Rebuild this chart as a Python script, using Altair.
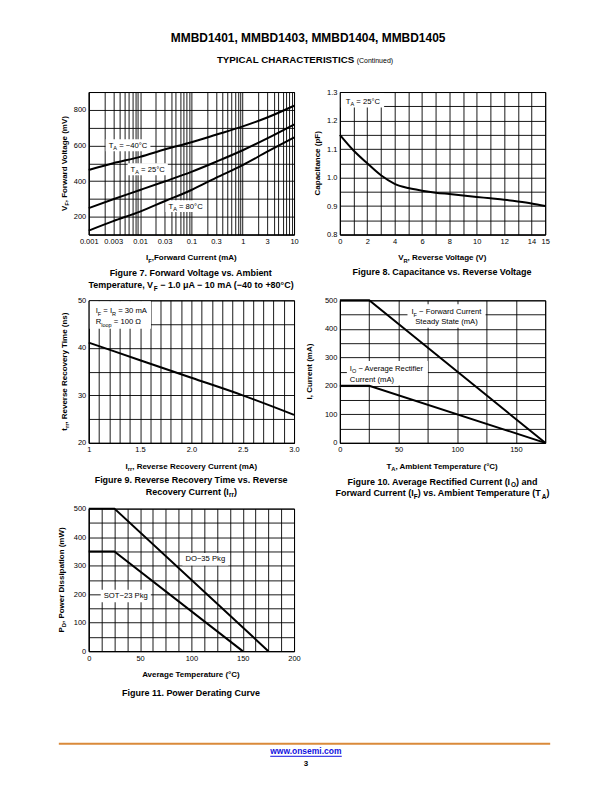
import json
import altair as alt
import pandas as pd

FONT = "Liberation Sans"
W, H = 206, 143
LBL = 7.7    # in-plot annotation text
AX = 8       # axis titles
CAP = 9      # figure captions
TICK = 7.5   # tick labels

# ---------------- data ----------------
# Figure 7: forward voltage vs forward current (log x)
f7_if = [0.001, 0.003, 0.01, 0.03, 0.1, 0.3, 1, 3, 10]
f7_vf_m40 = [462, 500, 536, 577, 618, 660, 707, 757, 823]
f7_vf_25 = [248, 298, 350, 398, 452, 508, 573, 640, 718]
f7_vf_80 = [122, 175, 229, 287, 350, 418, 490, 565, 645]
f7_series = ["-40", "25", "80"]
f7_xgrid = [0.001, 0.002, 0.003, 0.004, 0.005, 0.006, 0.007, 0.008, 0.009,
            0.01, 0.02, 0.03, 0.04, 0.05, 0.06, 0.07, 0.08, 0.09,
            0.1, 0.2, 0.3, 0.4, 0.5, 0.6, 0.7, 0.8, 0.9,
            1, 2, 3, 4, 5, 6, 7, 8, 9, 10]
f7_xlabels = [0.001, 0.003, 0.01, 0.03, 0.1, 0.3, 1, 3, 10]
f7_ygrid = [100, 200, 300, 400, 500, 600, 700, 800, 900]
f7_ylabels = [200, 400, 600, 800]

# Figure 8: capacitance vs reverse voltage
f8_vr = [0, 1, 2, 3, 4, 5, 6, 7, 8, 9, 10, 11, 12, 13, 14, 15]
f8_cap = [1.15, 1.095, 1.05, 1.008, 0.978, 0.963, 0.954, 0.947, 0.942, 0.937,
          0.932, 0.927, 0.922, 0.916, 0.909, 0.900]
f8_xgrid = [0, 1, 2, 3, 4, 5, 6, 7, 8, 9, 10, 11, 12, 13, 14, 15]
f8_xlabels = [0, 2, 4, 6, 8, 10, 12, 14, 15]
f8_ygrid = [0.8, 0.85, 0.9, 0.95, 1.0, 1.05, 1.1, 1.15, 1.2, 1.25, 1.3]
f8_ylabels = [0.8, 0.9, 1.0, 1.1, 1.2, 1.3]

# Figure 9: reverse recovery time vs reverse recovery current
f9_irr = [1.0, 1.5, 2.0, 2.5, 3.0]
f9_trr = [41.1, 37.4, 33.7, 30.0, 25.9]
f9_xgrid = [1.0, 1.1, 1.2, 1.3, 1.4, 1.5, 1.6, 1.7, 1.8, 1.9, 2.0,
            2.1, 2.2, 2.3, 2.4, 2.5, 2.6, 2.7, 2.8, 2.9, 3.0]
f9_xlabels = [1.0, 1.5, 2.0, 2.5, 3.0]
f9_ygrid = [20, 25, 30, 35, 40, 45, 50]
f9_ylabels = [20, 30, 40, 50]

# Figure 10: current derating
f10_ta = [0, 25, 175]
f10_if = [500, 500, 0]
f10_io = [200, 200, 0]
f10_xgrid = [0, 25, 50, 75, 100, 125, 150, 175]
f10_xlabels = [0, 50, 100, 150]
f10_ygrid = [0, 50, 100, 150, 200, 250, 300, 350, 400, 450, 500]
f10_ylabels = [0, 100, 200, 300, 400, 500]

# Figure 11: power derating
f11_t_do35 = [0, 25, 175]
f11_p_do35 = [500, 500, 0]
f11_t_sot23 = [0, 25, 150]
f11_p_sot23 = [350, 350, 0]
f11_xgrid = [0, 12.5, 25, 37.5, 50, 62.5, 75, 87.5, 100, 112.5, 125, 137.5,
             150, 162.5, 175, 187.5, 200]
f11_xlabels = [0, 50, 100, 150, 200]
f11_ygrid = [0, 50, 100, 150, 200, 250, 300, 350, 400, 450, 500]
f11_ylabels = [0, 100, 200, 300, 400, 500]

# ---------------- text helpers ----------------
UP = "ABCDEFGHIJKLMNOPQRSTUVWXYZ"
LO = "abcdefghijklmnopqrstuvwxyz"
NW = dict(zip(UP, [667, 667, 722, 722, 667, 611, 778, 722, 278, 500, 667, 556, 833,
                   722, 778, 667, 778, 722, 667, 611, 722, 667, 944, 667, 667, 611]))
NW.update(zip(LO, [556, 556, 500, 556, 556, 278, 556, 556, 222, 222, 500, 222, 833,
                   556, 556, 556, 556, 333, 500, 278, 556, 500, 722, 500, 500, 500]))
BW = dict(zip(UP, [722, 722, 722, 722, 667, 611, 778, 722, 278, 556, 722, 611, 833,
                   722, 778, 667, 778, 722, 667, 611, 722, 667, 944, 667, 667, 611]))
BW.update(zip(LO, [556, 611, 556, 611, 556, 333, 611, 611, 278, 278, 556, 278, 889,
                   611, 611, 611, 611, 389, 556, 333, 611, 556, 778, 556, 556, 500]))
for d in (NW, BW):
    d.update({c: 556 for c in "0123456789"})
    d.update({" ": 278, ".": 278, ",": 278, "(": 333, ")": 333, "-": 333, "−": 584,
              "=": 584, "°": 400, "Ω": 768, "μ": 576, "+": 584, ":": 278, "/": 278})


def tw(t, size, bold):
    tab = BW if bold else NW
    return sum(tab.get(c, 556) for c in t) * size / 1000.0


def seg(t, size=LBL, bold=False):
    return (t, size, bold, 0)


def sub(t, size=LBL, bold=False):
    return (t, round(size * 0.72, 2), bold, round(size * 0.3, 2))


def pw(parts):
    return sum(tw(t, s, b) for t, s, b, _ in parts)


ONE = pd.DataFrame({"k": [0]})


def rich(parts, x, y, align="center", angle=0, color="black"):
    widths = [tw(t, s, b) for t, s, b, _ in parts]
    total = sum(widths)
    cur = {"center": -total / 2, "left": 0, "right": -total}[align]
    out = []
    for (t, s, b, d), w in zip(parts, widths):
        lead = len(t) - len(t.lstrip(" "))
        off = cur + tw(" " * lead, s, b)
        t2 = t.strip(" ")
        if t2:
            out.append(
                alt.Chart(ONE).mark_text(
                    text=t2, align="left", baseline="alphabetic", font=FONT,
                    fontSize=s, fontWeight="bold" if b else "normal", color=color,
                    dx=round(off, 2), dy=d, angle=angle,
                ).encode(x=alt.value(x), y=alt.value(y))
            )
        cur += w
    return out


def box(x0, y0, x1, y1, color="white", opacity=1.0):
    return alt.Chart(ONE).mark_rect(color=color, opacity=opacity).encode(
        x=alt.value(x0), x2=alt.value(x1), y=alt.value(y0), y2=alt.value(y1))


def axis(grid, labels, fmt="toString(datum.value)"):
    return alt.Axis(
        values=grid,
        labelExpr=f"indexof({json.dumps(labels)}, datum.value) >= 0 ? {fmt} : ''",
        title=None, grid=True, ticks=False, labelFlush=False, labelOverlap=False,
    )


def A(t):
    return seg(t, AX, True)


def As(t):
    return sub(t, AX, True)


def C(t):
    return seg(t, CAP, True)


def Cs(t):
    return sub(t, CAP, True)


def ytitle(parts, x):
    return rich(parts, x, H / 2, angle=270)


def xtitle(parts, y=169):
    return rich(parts, W / 2, y)


def caption(lines, y0, step=11.5):
    out = []
    for i, parts in enumerate(lines):
        out += rich(parts, W / 2, y0 + i * step)
    return out


LINE = dict(color="black", strokeWidth=2)

# ---------------- Figure 7 ----------------
df7 = pd.DataFrame({
    "IF": f7_if * 3,
    "VF": f7_vf_m40 + f7_vf_25 + f7_vf_80,
    "T": [s for s in f7_series for _ in f7_if],
})
line7 = alt.Chart(df7).mark_line(interpolate="monotone", **LINE).encode(
    x=alt.X("IF:Q", scale=alt.Scale(type="log", domain=[0.001, 10], nice=False),
            axis=axis(f7_xgrid, f7_xlabels)),
    y=alt.Y("VF:Q", scale=alt.Scale(domain=[100, 900], nice=False, zero=False),
            axis=axis(f7_ygrid, f7_ylabels)),
    detail="T:N",
)
p7_layers = [box(-80, -82, 516, 694, opacity=0)]
p7_labels = []
for lx, ly, txt in [(20, 56, " = −40°C"), (42, 80, " = 25°C"), (80, 117, " = 80°C")]:
    parts = [seg("T"), sub("A"), seg(txt)]
    w = pw(parts)
    p7_layers.append(box(lx - 3, ly - 8.5, lx + w + 3, ly + 3.5))
    p7_labels += rich(parts, lx, ly, align="left")
p7_layers.append(line7)
p7_layers += p7_labels
p7_layers += ytitle([A("V"), As("F"), A(", Forward Voltage (mV)")], -22)
p7_layers += xtitle([A("I"), As("F"), A(",Forward Current (mA)")])
p7_layers += caption([
    [C("Figure 7. Forward Voltage vs. Ambient")],
    [C("Temperature, V"), Cs("F"), C(" − 1.0 μA − 10 mA (−40 to +80°C)")],
], 184.5, 12)
# page header
p7_layers += rich([seg("MMBD1401, MMBD1403,  MMBD1404, MMBD1405", 12, True)], 222, -50)
p7_layers += rich([seg("TYPICAL CHARACTERISTICS", 9.8, True), seg(" (Continued)", 7, False)], 217, -29)
p7 = alt.layer(*p7_layers).properties(width=W, height=H)

# ---------------- Figure 8 ----------------
df8 = pd.DataFrame({"VR": f8_vr, "C": f8_cap})
line8 = alt.Chart(df8).mark_line(interpolate="monotone", **LINE).encode(
    x=alt.X("VR:Q", scale=alt.Scale(domain=[0, 15], nice=False), axis=axis(f8_xgrid, f8_xlabels)),
    y=alt.Y("C:Q", scale=alt.Scale(domain=[0.8, 1.3], nice=False, zero=False),
            axis=axis(f8_ygrid, f8_ylabels, "format(datum.value, '.1f')")),
)
parts8 = [seg("T"), sub("A"), seg(" = 25°C")]
p8_layers = [box(1, 1, 6 + pw(parts8) + 4, 15.5), line8]
p8_layers += rich(parts8, 6, 12, align="left")
p8_layers += ytitle([A("Capacitance (pF)")], -20)
p8_layers += xtitle([A("V"), As("R"), A(", Reverse Voltage (V)")])
p8_layers += caption([[C("Figure 8. Capacitance vs. Reverse Voltage")]], 183.5)
p8 = alt.layer(*p8_layers).properties(width=W, height=H)

# ---------------- Figure 9 ----------------
df9 = pd.DataFrame({"Irr": f9_irr, "trr": f9_trr})
line9 = alt.Chart(df9).mark_line(interpolate="monotone", **LINE).encode(
    x=alt.X("Irr:Q", scale=alt.Scale(domain=[1, 3], nice=False, zero=False),
            axis=axis(f9_xgrid, f9_xlabels,
                      "(datum.value == 1 ? '1' : format(datum.value, '.1f'))")),
    y=alt.Y("trr:Q", scale=alt.Scale(domain=[20, 50], nice=False, zero=False),
            axis=axis(f9_ygrid, f9_ylabels)),
)
p9a = [seg("I"), sub("F"), seg(" = I"), sub("R"), seg(" = 30 mA")]
p9b = [seg("R"), sub("loop"), seg(" = 100 Ω")]
p9_layers = [box(1, 1, 7 + max(pw(p9a), pw(p9b)) + 4, 28.5), line9]
p9_layers += rich(p9a, 7, 13, align="left")
p9_layers += rich(p9b, 7, 24, align="left")
p9_layers += ytitle([A("t"), As("rr"), A(", Reverse Recovery Time (ns)")], -22)
p9_layers += xtitle([A("I"), As("rr"), A(", Reverse Recovery Current (mA)")])
p9_layers += caption([
    [C("Figure 9. Reverse Recovery Time vs. Reverse")],
    [C("Recovery Current (I"), Cs("rr"), C(")")],
], 183.5)
p9 = alt.layer(*p9_layers).properties(width=W, height=H)

# ---------------- Figure 10 ----------------
df10 = pd.DataFrame({
    "TA": f10_ta * 2,
    "I": f10_if + f10_io,
    "S": ["IF"] * len(f10_ta) + ["IO"] * len(f10_ta),
})
line10 = alt.Chart(df10).mark_line(**LINE).encode(
    x=alt.X("TA:Q", scale=alt.Scale(domain=[0, 175], nice=False), axis=axis(f10_xgrid, f10_xlabels)),
    y=alt.Y("I:Q", scale=alt.Scale(domain=[0, 500], nice=False), axis=axis(f10_ygrid, f10_ylabels)),
    detail="S:N",
)
p10a = [seg("I"), sub("F"), seg(" − Forward Current")]
p10b = [seg("Steady State (mA)")]
p10c = [seg("I"), sub("O"), seg(" − Average Rectifier")]
p10d = [seg("Current (mA)")]
wab = max(pw(p10a), pw(p10b))
wcd = max(pw(p10c), pw(p10d))
p10_layers = [box(107 - wab / 2 - 4, 4, 107 + wab / 2 + 4, 27.5),
              box(7, 61, 10 + wcd + 4, 85.5), line10]
p10_layers += rich(p10a, 107, 14)
p10_layers += rich(p10b, 107, 24)
p10_layers += rich(p10c, 10, 71, align="left")
p10_layers += rich(p10d, 10, 82, align="left")
p10_layers += ytitle([A("I, Current (mA)")], -28)
p10_layers += xtitle([A("T"), As("A"), A(", Ambient Temperature (°C)")])
p10_layers += caption([
    [C("Figure 10. Average Rectified Current (I"), Cs("O"), C(") and")],
    [C("Forward Current (I"), Cs("F"), C(") vs. Ambient Temperature (T"), Cs("A"), C(")")],
], 185)
p10 = alt.layer(*p10_layers).properties(width=W, height=H)

# ---------------- Figure 11 ----------------
df11 = pd.DataFrame({
    "T": f11_t_do35 + f11_t_sot23,
    "P": f11_p_do35 + f11_p_sot23,
    "S": ["DO-35"] * len(f11_t_do35) + ["SOT-23"] * len(f11_t_sot23),
})
line11 = alt.Chart(df11).mark_line(**LINE).encode(
    x=alt.X("T:Q", scale=alt.Scale(domain=[0, 200], nice=False), axis=axis(f11_xgrid, f11_xlabels)),
    y=alt.Y("P:Q", scale=alt.Scale(domain=[0, 500], nice=False), axis=axis(f11_ygrid, f11_ylabels)),
    detail="S:N",
)
pdo = [seg("DO−35 Pkg")]
psot = [seg("SOT−23 Pkg")]
p11_layers = [box(94, 44.5, 97 + pw(pdo) + 3, 57), box(12, 81.5, 15 + pw(psot) + 3, 94), line11]
p11_layers += rich(pdo, 97, 53, align="left")
p11_layers += rich(psot, 15, 90, align="left")
p11_layers += ytitle([A("P"), As("D"), A(", Power Dissipation (mW)")], -25)
p11_layers += xtitle([A("Average Temperature (°C)")], 169)
p11_layers += caption([[C("Figure 11. Power Derating Curve")]], 188)
# page footer
p11_layers.append(
    alt.Chart(ONE).mark_rule(color="#DA8A3A", strokeWidth=2).encode(
        x=alt.value(-30), x2=alt.value(463), y=alt.value(236)))
link_w = tw("www.onsemi.com", 8.5, True)
p11_layers += rich([seg("www.onsemi.com", 8.5, True)], 218, 246.5, color="#1010E0")
p11_layers.append(
    alt.Chart(ONE).mark_rule(color="#1010E0", strokeWidth=1).encode(
        x=alt.value(218 - link_w / 2), x2=alt.value(218 + link_w / 2), y=alt.value(248.5)))
p11_layers += rich([seg("3", 8, True)], 218, 258)
p11 = alt.layer(*p11_layers).properties(width=W, height=H)

# ---------------- page ----------------
chart = alt.concat(
    p7, p8, p9, p10, p11, columns=2,
    spacing={"row": 66, "column": 46}, bounds="flush",
).properties(
    padding=0
).configure(font=FONT).configure_view(
    stroke="black", strokeWidth=1
).configure_axis(
    domainColor="black", domainWidth=1, gridColor="black", gridWidth=0.9, gridOpacity=1,
    labelFont=FONT, labelFontSize=TICK, labelColor="black", labelPadding=3,
)

chart.save("out.html", embed_options={"renderer": "svg", "actions": False})
